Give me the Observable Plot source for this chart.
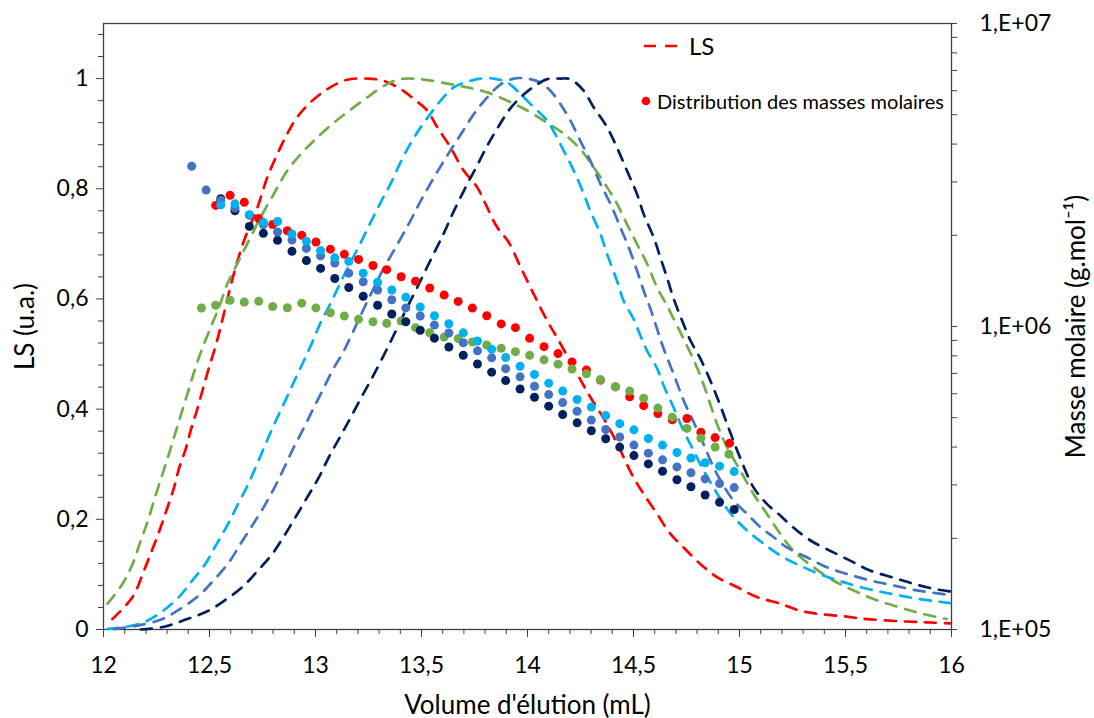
<!DOCTYPE html>
<html><head><meta charset="utf-8">
<script src="https://cdn.jsdelivr.net/npm/d3@7"></script>
<script src="https://cdn.jsdelivr.net/npm/@observablehq/plot@0.6"></script>
<style>
html,body{margin:0;padding:0;background:#fff;}
#wrap{position:relative;width:1094px;height:718px;font-family:Lato,sans-serif;color:#000;}
.leg{position:absolute;white-space:nowrap;}
</style></head><body><div id="wrap"></div>
<script>
// ---- LS curves (volume mL, normalised LS) ----
const lsRed = [[12.042,0.019],[12.137,0.059],[12.191,0.107],[12.231,0.146],[12.270,0.186],[12.302,0.222],[12.333,0.258],[12.356,0.292],[12.388,0.328],[12.411,0.361],[12.440,0.397],[12.467,0.434],[12.498,0.476],[12.529,0.515],[12.562,0.564],[12.615,0.646],[12.663,0.706],[12.726,0.766],[12.773,0.821],[12.820,0.863],[12.867,0.900],[12.914,0.930],[12.977,0.957],[13.056,0.981],[13.150,0.998],[13.244,1.000],[13.322,0.996],[13.401,0.981],[13.464,0.963],[13.527,0.942],[13.574,0.912],[13.637,0.875],[13.699,0.833],[13.762,0.803],[13.810,0.766],[13.857,0.730],[13.911,0.703],[13.967,0.658],[14.029,0.609],[14.092,0.561],[14.139,0.530],[14.234,0.464],[14.296,0.422],[14.375,0.373],[14.438,0.325],[14.500,0.276],[14.548,0.246],[14.611,0.210],[14.673,0.174],[14.736,0.149],[14.815,0.119],[14.894,0.095],[14.988,0.077],[15.082,0.059],[15.192,0.047],[15.286,0.034],[15.380,0.028],[15.490,0.024],[15.600,0.019],[15.757,0.015],[15.883,0.013],[15.993,0.011]];
const lsGreen = [[12.019,0.047],[12.090,0.083],[12.137,0.119],[12.176,0.162],[12.210,0.198],[12.238,0.234],[12.273,0.276],[12.304,0.313],[12.333,0.349],[12.364,0.388],[12.396,0.428],[12.427,0.467],[12.459,0.503],[12.506,0.549],[12.545,0.585],[12.584,0.627],[12.631,0.664],[12.686,0.706],[12.741,0.748],[12.804,0.791],[12.867,0.833],[12.938,0.866],[12.992,0.887],[13.071,0.915],[13.150,0.939],[13.244,0.966],[13.338,0.990],[13.401,0.999],[13.495,0.999],[13.621,0.991],[13.715,0.984],[13.810,0.975],[13.904,0.960],[13.998,0.942],[14.092,0.920],[14.171,0.900],[14.249,0.872],[14.312,0.839],[14.375,0.803],[14.422,0.773],[14.469,0.736],[14.516,0.700],[14.564,0.664],[14.611,0.621],[14.658,0.588],[14.705,0.552],[14.752,0.515],[14.799,0.476],[14.846,0.428],[14.894,0.373],[14.941,0.331],[15.003,0.289],[15.066,0.246],[15.129,0.210],[15.192,0.174],[15.254,0.143],[15.349,0.113],[15.443,0.089],[15.537,0.071],[15.648,0.053],[15.757,0.040],[15.867,0.028],[15.977,0.019]];
const lsLight = [[12.019,0.001],[12.176,0.011],[12.278,0.033],[12.356,0.059],[12.419,0.089],[12.482,0.120],[12.529,0.152],[12.584,0.189],[12.631,0.225],[12.679,0.261],[12.722,0.298],[12.765,0.337],[12.807,0.374],[12.851,0.410],[12.894,0.446],[12.938,0.482],[12.982,0.519],[13.024,0.557],[13.071,0.592],[13.118,0.630],[13.165,0.666],[13.213,0.702],[13.260,0.739],[13.307,0.775],[13.354,0.809],[13.401,0.848],[13.448,0.882],[13.495,0.911],[13.542,0.936],[13.590,0.960],[13.652,0.984],[13.715,0.994],[13.778,1.000],[13.841,1.000],[13.904,0.993],[13.967,0.972],[14.029,0.948],[14.092,0.924],[14.171,0.869],[14.218,0.833],[14.265,0.791],[14.296,0.760],[14.344,0.718],[14.375,0.682],[14.422,0.633],[14.453,0.597],[14.500,0.564],[14.532,0.534],[14.564,0.506],[14.611,0.474],[14.642,0.443],[14.689,0.403],[14.736,0.361],[14.783,0.325],[14.830,0.289],[14.877,0.258],[14.925,0.228],[14.972,0.204],[15.035,0.180],[15.113,0.156],[15.207,0.131],[15.302,0.113],[15.396,0.098],[15.490,0.086],[15.600,0.074],[15.710,0.065],[15.820,0.057],[15.930,0.051],[15.993,0.048]];
const lsMid = [[12.050,0.001],[12.160,0.007],[12.278,0.019],[12.364,0.038],[12.451,0.062],[12.521,0.090],[12.592,0.122],[12.647,0.156],[12.702,0.189],[12.757,0.223],[12.807,0.258],[12.854,0.295],[12.898,0.331],[12.945,0.366],[12.990,0.401],[13.037,0.437],[13.084,0.473],[13.134,0.506],[13.197,0.557],[13.260,0.608],[13.321,0.655],[13.386,0.699],[13.448,0.742],[13.495,0.777],[13.558,0.820],[13.621,0.860],[13.684,0.898],[13.746,0.935],[13.810,0.966],[13.872,0.989],[13.935,1.000],[13.998,1.000],[14.061,0.993],[14.108,0.978],[14.155,0.954],[14.202,0.924],[14.249,0.887],[14.296,0.851],[14.344,0.809],[14.391,0.773],[14.438,0.730],[14.477,0.694],[14.516,0.652],[14.548,0.615],[14.579,0.583],[14.611,0.546],[14.642,0.510],[14.689,0.464],[14.736,0.416],[14.783,0.377],[14.830,0.337],[14.877,0.295],[14.925,0.261],[14.972,0.234],[15.035,0.210],[15.098,0.186],[15.160,0.168],[15.223,0.149],[15.318,0.131],[15.412,0.113],[15.506,0.101],[15.616,0.089],[15.726,0.080],[15.836,0.071],[15.946,0.065],[15.993,0.062]];
const lsNavy = [[12.176,0.000],[12.286,0.005],[12.388,0.018],[12.490,0.033],[12.576,0.054],[12.655,0.077],[12.726,0.106],[12.796,0.137],[12.854,0.171],[12.906,0.204],[12.961,0.240],[13.016,0.276],[13.063,0.313],[13.115,0.349],[13.162,0.382],[13.213,0.419],[13.260,0.452],[13.312,0.490],[13.370,0.535],[13.425,0.579],[13.480,0.621],[13.542,0.670],[13.605,0.719],[13.652,0.759],[13.715,0.808],[13.762,0.842],[13.810,0.878],[13.857,0.909],[13.919,0.946],[13.982,0.971],[14.029,0.985],[14.092,0.999],[14.155,1.000],[14.202,0.999],[14.265,0.978],[14.312,0.948],[14.375,0.912],[14.422,0.875],[14.469,0.833],[14.516,0.791],[14.548,0.754],[14.595,0.712],[14.626,0.676],[14.658,0.639],[14.689,0.601],[14.729,0.561],[14.768,0.525],[14.815,0.492],[14.862,0.452],[14.909,0.407],[14.956,0.358],[15.003,0.312],[15.066,0.258],[15.129,0.228],[15.192,0.207],[15.254,0.185],[15.333,0.162],[15.427,0.143],[15.522,0.125],[15.616,0.107],[15.726,0.094],[15.820,0.083],[15.914,0.074],[15.993,0.069]];

// ---- Molar-mass distributions (volume mL, M g/mol) ----
const volRed = [12.529,12.597,12.664,12.732,12.798,12.867,12.935,13.002,13.070,13.136,13.203,13.271,13.336,13.404,13.472,13.539,13.607,13.673,13.740,13.808,13.876,13.943,14.010,14.078,14.144,14.210,14.278,14.344,14.415,14.482,14.548,14.615,14.683,14.752,14.818,14.885,14.953];
const massRed = [2.51e6,2.71e6,2.57e6,2.27e6,2.17e6,2.07e6,2.00e6,1.90e6,1.80e6,1.73e6,1.665e6,1.59e6,1.54e6,1.46e6,1.41e6,1.34e6,1.27e6,1.21e6,1.15e6,1.085e6,1.02e6,9.91e5,9.14e5,8.58e5,8.14e5,7.64e5,7.19e5,6.65e5,6.32e5,5.86e5,5.48e5,5.16e5,4.92e5,4.97e5,4.48e5,4.30e5,4.12e5];
const volGreen = [12.462,12.529,12.597,12.664,12.732,12.798,12.867,12.935,13.002,13.070,13.136,13.203,13.271,13.336,13.404,13.472,13.539,13.607,13.673,13.740,13.808,13.876,13.943,14.010,14.078,14.144,14.210,14.278,14.344,14.415,14.482,14.548,14.615,14.683,14.752,14.818,14.885,14.950];
const massGreen = [1.151e6,1.175e6,1.221e6,1.205e6,1.211e6,1.164e6,1.153e6,1.194e6,1.152e6,1.110e6,1.083e6,1.056e6,1.037e6,1.025e6,1.043e6,9.91e5,9.54e5,9.23e5,9.12e5,8.89e5,8.69e5,8.48e5,8.26e5,8.03e5,7.76e5,7.51e5,7.24e5,6.98e5,6.68e5,6.33e5,6.12e5,5.80e5,5.38e5,5.02e5,4.61e5,4.28e5,4.00e5,3.79e5];
const volMid = [12.416,12.484,12.553,12.620,12.688,12.754,12.821,12.889,12.957,13.024,13.091,13.157,13.225,13.293,13.360,13.426,13.494,13.561,13.629,13.697,13.764,13.831,13.897,13.965,14.033,14.100,14.166,14.234,14.301,14.369,14.435,14.502,14.570,14.637,14.705,14.771,14.838,14.906,14.975];
const massMid = [3.38e6,2.82e6,2.61e6,2.46e6,2.33e6,2.17e6,2.05e6,1.93e6,1.81e6,1.71e6,1.62e6,1.50e6,1.405e6,1.32e6,1.225e6,1.152e6,1.083e6,1.011e6,9.52e5,8.84e5,8.31e5,7.88e5,7.26e5,6.82e5,6.35e5,5.96e5,5.61e5,5.25e5,4.91e5,4.57e5,4.32e5,4.06e5,3.82e5,3.63e5,3.44e5,3.29e5,3.14e5,3.03e5,2.94e5];
const volNavy = [12.553,12.620,12.688,12.754,12.821,12.889,12.957,13.024,13.091,13.157,13.225,13.293,13.360,13.426,13.494,13.561,13.629,13.697,13.764,13.831,13.897,13.965,14.033,14.100,14.166,14.234,14.301,14.369,14.435,14.502,14.570,14.637,14.705,14.771,14.838,14.906,14.975];
const massNavy = [2.64e6,2.41e6,2.14e6,2.03e6,1.925e6,1.77e6,1.65e6,1.555e6,1.44e6,1.345e6,1.258e6,1.175e6,1.10e6,1.037e6,9.72e5,9.15e5,8.56e5,8.04e5,7.52e5,7.07e5,6.63e5,6.22e5,5.84e5,5.46e5,5.12e5,4.81e5,4.53e5,4.26e5,4.00e5,3.75e5,3.52e5,3.33e5,3.12e5,2.96e5,2.78e5,2.63e5,2.49e5];
const volLight = [12.553,12.620,12.688,12.754,12.821,12.889,12.957,13.024,13.091,13.157,13.225,13.293,13.360,13.426,13.494,13.561,13.629,13.697,13.764,13.831,13.897,13.965,14.033,14.100,14.166,14.234,14.301,14.369,14.435,14.502,14.570,14.637,14.705,14.771,14.838,14.906,14.975];
const massLight = [2.52e6,2.54e6,2.34e6,2.205e6,2.22e6,2.02e6,1.91e6,1.78e6,1.685e6,1.64e6,1.50e6,1.40e6,1.32e6,1.25e6,1.16e6,1.085e6,1.021e6,9.53e5,8.96e5,8.42e5,7.90e5,7.39e5,6.95e5,6.50e5,6.12e5,5.74e5,5.42e5,5.08e5,4.78e5,4.56e5,4.27e5,4.06e5,3.84e5,3.68e5,3.55e5,3.46e5,3.32e5];

// ---- ticks ----
const xMajorTicks = [12,12.5,13,13.5,14,14.5,15,15.5,16];
const xMinorTicks = [12.1,12.2,12.3,12.4,12.6,12.7,12.8,12.9,13.1,13.2,13.3,13.4,13.6,13.7,13.8,13.9,14.1,14.2,14.3,14.4,14.6,14.7,14.8,14.9,15.1,15.2,15.3,15.4,15.6,15.7,15.8,15.9];
const yMajorTicks = [0,0.2,0.4,0.6,0.8,1];
const yMinorTicks = [0.04,0.08,0.12,0.16,0.24,0.28,0.32,0.36,0.44,0.48,0.52,0.56,0.64,0.68,0.72,0.76,0.84,0.88,0.92,0.96,1.04,1.08];
const massMajorTicks = [1e5,1e6,1e7];
const massMinorTicks = [2e5,3e5,4e5,5e5,6e5,7e5,8e5,9e5,2e6,3e6,4e6,5e6,6e6,7e6,8e6,9e6];

// ---- colours ----
const cRed = "#FF0000", cGreen = "#70AD47", cLight = "#00B0F0", cMid = "#4472C4", cNavy = "#002060";

// secondary (log) axis mapped onto the primary LS scale: 1e5 -> 0, 1e7 -> 1.1
const LSMAX = 1.1;
const toLS = m => LSMAX * (Math.log10(m) - 5) / 2;
const fromLS = v => Math.round(v * 2 / LSMAX + 5);
const comma = d => String(d).replace(".", ",");
const zip = (vs, ms) => vs.map((v, i) => ({v, m: ms[i]}));
const blank = () => "";

const dash = "11,9";
const lineOpts = (stroke) => ({x: d => d[0], y: d => d[1], stroke, strokeWidth: 2.7, strokeDasharray: dash, curve: "catmull-rom"});
const dotOpts = (fill) => ({x: "v", y: d => toLS(d.m), r: 4.5, fill, stroke: "none"});
const axisColor = "#404040";
const TICKFS = 23, TITLEFS = 26;

const chart = Plot.plot({
  width: 1094, height: 718,
  marginLeft: 103, marginRight: 143, marginTop: 23, marginBottom: 89,
  x: {domain: [12, 16]},
  y: {domain: [0, LSMAX]},
  style: {fontFamily: "Lato, sans-serif", fontSize: "23px", color: "#000", background: "#fff"},
  marks: [
    Plot.frame({stroke: axisColor, strokeWidth: 1.3}),
    // x axis: minor ticks carry the title, major ticks carry the labels
    Plot.axisX({ticks: xMinorTicks, tickSize: 5, tickFormat: blank, stroke: axisColor, fontSize: TITLEFS,
      label: "Volume d'élution (mL)", labelAnchor: "center", labelArrow: "none", labelOffset: 84}),
    Plot.axisX({ticks: xMajorTicks, tickSize: 8, tickPadding: 19, tickFormat: comma, stroke: axisColor, fontSize: TICKFS, label: null}),
    // left axis
    Plot.axisY({ticks: yMinorTicks, tickSize: 5, tickFormat: blank, stroke: axisColor, fontSize: TITLEFS,
      label: "LS (u.a.)", labelAnchor: "center", labelArrow: "none", labelOffset: 88}),
    Plot.axisY({ticks: yMajorTicks, tickSize: 7, tickPadding: 8, tickFormat: comma, stroke: axisColor, fontSize: TICKFS, label: null}),
    // right (log) axis
    Plot.axisY({anchor: "right", ticks: massMinorTicks.map(toLS), tickSize: 5, tickFormat: blank, stroke: axisColor, fontSize: TITLEFS,
      label: "Masse molaire (g.mol⁻¹)", labelAnchor: "center", labelArrow: "none", labelOffset: 133}),
    Plot.axisY({anchor: "right", ticks: massMajorTicks.map(toLS), tickSize: 5, tickPadding: 23, stroke: axisColor, fontSize: TICKFS,
      tickFormat: v => "1,E+0" + fromLS(v), label: null}),
    Plot.line(lsRed, lineOpts(cRed)),
    Plot.line(lsGreen, lineOpts(cGreen)),
    Plot.line(lsLight, lineOpts(cLight)),
    Plot.line(lsMid, lineOpts(cMid)),
    Plot.line(lsNavy, lineOpts(cNavy)),
    Plot.dot(zip(volRed, massRed), dotOpts(cRed)),
    Plot.dot(zip(volGreen, massGreen), dotOpts(cGreen)),
    Plot.dot(zip(volNavy, massNavy), dotOpts(cNavy)),
    Plot.dot(zip(volMid, massMid), dotOpts(cMid)),
    Plot.dot(zip(volLight, massLight), dotOpts(cLight))
  ]
});

const wrap = document.getElementById("wrap");
wrap.appendChild(chart);

// ---- legend (inside plot area, top right) ----
const leg1 = document.createElement("div");
leg1.className = "leg";
leg1.style.cssText = "left:641px;top:32px;height:28px;display:flex;align-items:center;";
leg1.innerHTML = '<svg width="42" height="28"><line x1="3" y1="14" x2="40" y2="14" stroke="' + cRed + '" stroke-width="2.7" stroke-dasharray="12,9"/></svg><span style="font-size:24px;margin-left:6px;line-height:28px">LS</span>';
wrap.appendChild(leg1);
const leg2 = document.createElement("div");
leg2.className = "leg";
leg2.style.cssText = "left:641px;top:88px;height:26px;display:flex;align-items:center;";
leg2.innerHTML = '<svg width="10" height="26"><circle cx="5" cy="13" r="4.3" fill="' + cRed + '"/></svg><span style="font-size:20px;margin-left:6px;line-height:26px">Distribution des masses molaires</span>';
wrap.appendChild(leg2);
</script></body></html>
